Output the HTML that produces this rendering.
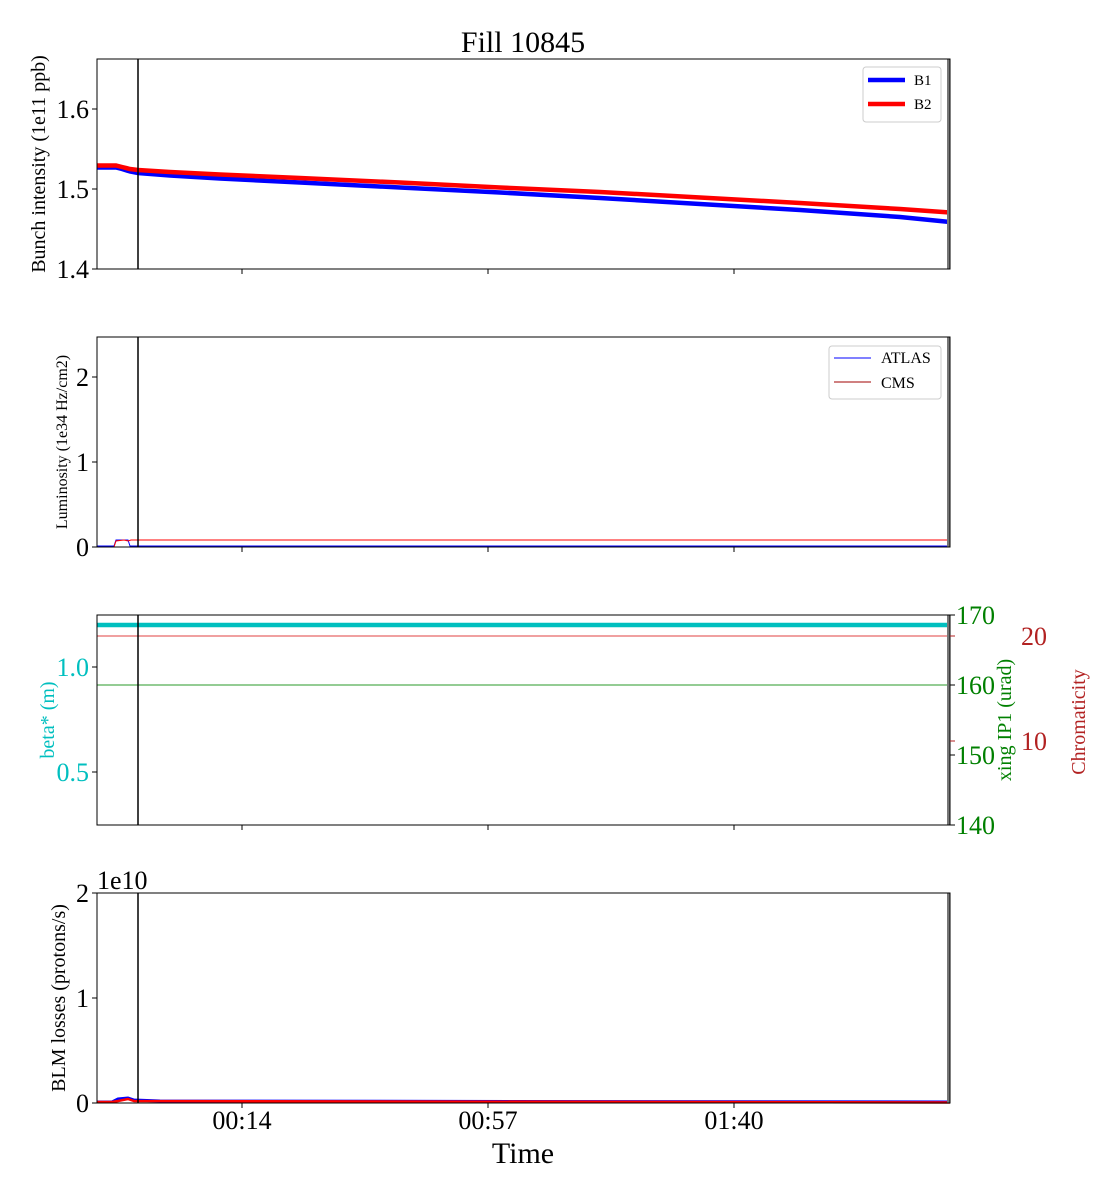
<!DOCTYPE html>
<html><head><meta charset="utf-8"><style>body{margin:0;background:#fff}svg{display:block}text{font-family:"Liberation Serif",serif}</style></head><body>
<svg width="1120" height="1200" viewBox="0 0 1120 1200" xmlns="http://www.w3.org/2000/svg">
<text x="523" y="52" font-size="30" text-anchor="middle">Fill 10845</text>
<!-- Panel 1 -->
<g>
<polyline points="97,167.5 116,167.5 122,169 130,171.5 138,173 170,175.5 220,178.5 300,182.5 400,187.5 500,192.5 600,198 700,204 800,210 900,217 950,222" fill="none" stroke="#0000ff" stroke-width="4.5"/>
<polyline points="97,165.5 116,165.5 122,167 130,169 138,170 170,172 220,174.5 300,178 400,182.5 500,187.5 600,192 700,197.5 800,203 900,209 950,212.5" fill="none" stroke="#ff0000" stroke-width="4.5"/>
<line x1="138" y1="59" x2="138" y2="269" stroke="#000" stroke-width="1.5"/>
<line x1="948.5" y1="59" x2="948.5" y2="269" stroke="#777" stroke-width="3"/>
<rect x="97" y="59" width="853" height="210" fill="none" stroke="#000" stroke-width="1"/>
<g stroke="#000"><line x1="92" y1="269" x2="97" y2="269"/><line x1="92" y1="189" x2="97" y2="189"/><line x1="92" y1="109" x2="97" y2="109"/>
<line x1="242" y1="269" x2="242" y2="274"/><line x1="488" y1="269" x2="488" y2="274"/><line x1="734" y1="269" x2="734" y2="274"/></g>
<g font-size="26" text-anchor="end"><text x="89" y="278">1.4</text><text x="89" y="198">1.5</text><text x="89" y="118">1.6</text></g>
<text transform="translate(45,164) rotate(-90)" font-size="20" text-anchor="middle">Bunch intensity (1e11 ppb)</text>
<rect x="863" y="67" width="78" height="55" rx="3" fill="#fff" stroke="#ccc"/>
<line x1="868" y1="80" x2="905" y2="80" stroke="#0000ff" stroke-width="4.5"/><text x="914" y="85" font-size="15">B1</text>
<line x1="868" y1="104" x2="905" y2="104" stroke="#ff0000" stroke-width="4.5"/><text x="914" y="109" font-size="15">B2</text>
</g>
<!-- Panel 2 -->
<g>
<polyline points="97,546 114,546 116,540 128,540 130,546 950,546" fill="none" stroke="#0000ff" stroke-width="1"/>
<polyline points="105,547 114,547 116,541 124,540 128,541 131,540 950,540" fill="none" stroke="#ff0000" stroke-width="1"/>
<line x1="138" y1="337" x2="138" y2="547" stroke="#000" stroke-width="1.5"/>
<line x1="948.5" y1="337" x2="948.5" y2="547" stroke="#777" stroke-width="3"/>
<rect x="97" y="337" width="853" height="210" fill="none" stroke="#000"/>
<g stroke="#000"><line x1="92" y1="547" x2="97" y2="547"/><line x1="92" y1="462" x2="97" y2="462"/><line x1="92" y1="377" x2="97" y2="377"/>
<line x1="242" y1="547" x2="242" y2="552"/><line x1="488" y1="547" x2="488" y2="552"/><line x1="734" y1="547" x2="734" y2="552"/></g>
<g font-size="26" text-anchor="end"><text x="89" y="556">0</text><text x="89" y="471">1</text><text x="89" y="386">2</text></g>
<text transform="translate(67,442) rotate(-90)" font-size="16" text-anchor="middle">Luminosity (1e34 Hz/cm2)</text>
<rect x="829" y="346" width="112" height="53" rx="3" fill="#fff" stroke="#ccc"/>
<line x1="834" y1="358" x2="871" y2="358" stroke="#0000ff" stroke-width="1"/><text x="881" y="363" font-size="16">ATLAS</text>
<line x1="834" y1="382" x2="871" y2="382" stroke="#a00000" stroke-width="1"/><text x="881" y="388" font-size="16">CMS</text>
</g>
<!-- Panel 3 -->
<g>
<line x1="97" y1="625" x2="950" y2="625" stroke="#00bfbf" stroke-width="4.5"/>
<line x1="97" y1="636" x2="950" y2="636" stroke="#e04040" stroke-width="1"/>
<line x1="97" y1="685" x2="950" y2="685" stroke="#2a9a2a" stroke-width="1"/>
<line x1="138" y1="615" x2="138" y2="825" stroke="#000" stroke-width="1.5"/>
<line x1="948.5" y1="615" x2="948.5" y2="825" stroke="#777" stroke-width="3"/>
<rect x="97" y="615" width="853" height="210" fill="none" stroke="#000"/>
<g stroke="#000"><line x1="92" y1="667" x2="97" y2="667"/><line x1="92" y1="772" x2="97" y2="772"/>
<line x1="242" y1="825" x2="242" y2="830"/><line x1="488" y1="825" x2="488" y2="830"/><line x1="734" y1="825" x2="734" y2="830"/>
<line x1="950" y1="615" x2="955" y2="615"/><line x1="950" y1="685" x2="955" y2="685"/><line x1="950" y1="755" x2="955" y2="755"/><line x1="950" y1="825" x2="955" y2="825"/></g>
<g stroke="#b22222"><line x1="950" y1="636" x2="955" y2="636"/><line x1="950" y1="741" x2="955" y2="741"/></g>
<g font-size="26" text-anchor="end" fill="#00bfbf"><text x="89" y="676">1.0</text><text x="89" y="781">0.5</text></g>
<text transform="translate(54,720) rotate(-90)" font-size="20" text-anchor="middle" fill="#00bfbf">beta* (m)</text>
<g font-size="26" fill="#008000"><text x="956" y="624">170</text><text x="956" y="694">160</text><text x="956" y="764">150</text><text x="956" y="834">140</text></g>
<text transform="translate(1011,720) rotate(-90)" font-size="20" text-anchor="middle" fill="#008000">xing IP1 (urad)</text>
<g font-size="26" fill="#b22222"><text x="1021" y="645">20</text><text x="1021" y="750">10</text></g>
<text transform="translate(1085,722) rotate(-90)" font-size="20" text-anchor="middle" fill="#b22222">Chromaticity</text>
</g>
<!-- Panel 4 -->
<g>
<polyline points="97,1102 112,1102 118,1099 128,1098 134,1100 160,1101 950,1102" fill="none" stroke="#0000ff" stroke-width="3"/>
<polyline points="97,1102 112,1102 118,1101 128,1099 134,1101 950,1102.5" fill="none" stroke="#ff0000" stroke-width="2.5"/>
<line x1="138" y1="893" x2="138" y2="1103" stroke="#000" stroke-width="1.5"/>
<line x1="948.5" y1="893" x2="948.5" y2="1103" stroke="#777" stroke-width="3"/>
<rect x="97" y="893" width="853" height="210" fill="none" stroke="#000"/>
<g stroke="#000"><line x1="92" y1="1103" x2="97" y2="1103"/><line x1="92" y1="998" x2="97" y2="998"/><line x1="92" y1="893" x2="97" y2="893"/>
<line x1="242" y1="1103" x2="242" y2="1108"/><line x1="488" y1="1103" x2="488" y2="1108"/><line x1="734" y1="1103" x2="734" y2="1108"/></g>
<g font-size="26" text-anchor="end"><text x="89" y="1112">0</text><text x="89" y="1007">1</text><text x="89" y="902">2</text></g>
<text x="97" y="889" font-size="26">1e10</text>
<text transform="translate(65,998) rotate(-90)" font-size="20" text-anchor="middle">BLM losses (protons/s)</text>
<g font-size="26" text-anchor="middle"><text x="242" y="1129">00:14</text><text x="488" y="1129">00:57</text><text x="734" y="1129">01:40</text></g>
<text x="523" y="1163" font-size="30" text-anchor="middle">Time</text>
</g>
</svg>
</body></html>
